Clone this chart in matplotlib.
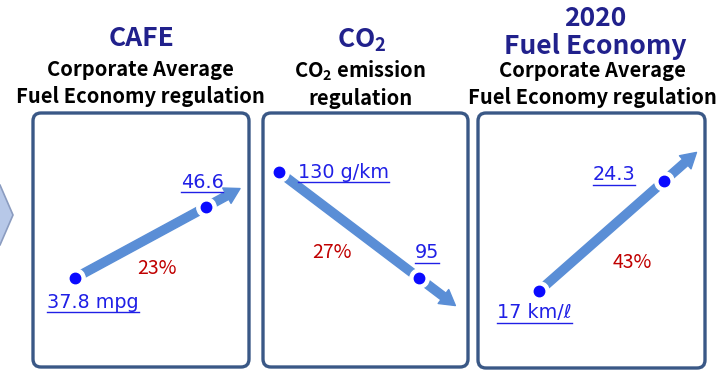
import matplotlib.pyplot as plt
from matplotlib.patches import FancyBboxPatch, Polygon
from matplotlib.lines import Line2D
from matplotlib.transforms import IdentityTransform

plt.rcParams['font.family'] = ['Noto Sans CJK KR', 'DejaVu Sans']
plt.rcParams['mathtext.fontset'] = 'custom'
plt.rcParams['mathtext.rm'] = 'Noto Sans CJK KR:bold'
plt.rcParams['mathtext.default'] = 'rm'

# data
headlines = ['CAFE', 'CO$_2$', '2020\nFuel Economy']
subtitles = ['Corporate Average\nFuel Economy regulation',
             'CO$_2$ emission\nregulation',
             'Corporate Average\nFuel Economy regulation']
start_values = [37.8, 130, 17]
end_values = [46.6, 95, 24.3]
start_labels = ['37.8 mpg', '130 g/km', '17 km/ℓ']
end_labels = ['46.6', '95', '24.3']
changes = ['23%', '27%', '43%']

# layout (pixels, y from top)
W, H = 720, 375
boxes = [(33, 113, 249, 367), (263, 113, 468, 367), (478, 113, 705, 368)]
dot_px = [((75, 278), (206, 207)), ((279, 172), (419, 278)), ((539, 291), (664, 181))]
head_pos = [(142, 38), (362, 40), (595, 33)]
sub_pos = [(140, 83), (360, 84), (592, 84)]
start_lab_pos = [(47, 302, 'left'), (298, 172, 'left'), (497, 313, 'left')]
end_lab_pos = [(202, 182), (427, 253), (614, 175)]
pct_pos = [(157, 268), (332, 253), (632, 263)]

navy = '#21218c'
arrow_c = '#5a8ed6'
blue = '#0a0aff'
lab_c = '#2020e6'

fig = plt.figure(figsize=(7.2, 3.75), dpi=100)
bg = fig.add_axes([0, 0, 1, 1])
bg.set_xlim(0, W)
bg.set_ylim(H, 0)
bg.axis('off')

# chevron at the left edge
bg.add_patch(Polygon([(-20, 185), (0, 185), (13, 215), (0, 245), (-20, 245)],
                     closed=True, facecolor='#b7c8e8', edgecolor='#8b9cc0', lw=1.2))

labels = []
for i in range(3):
    x0, y0, x1, y1 = boxes[i]
    bg.add_patch(FancyBboxPatch((x0, y0), x1 - x0, y1 - y0,
                                boxstyle='round,pad=0,rounding_size=8',
                                facecolor='white', edgecolor='#3a5886', lw=2.4))

    # titles
    if i == 2:
        bg.text(head_pos[i][0], 18, '2020', color=navy, fontsize=19, fontweight='bold',
                ha='center', va='center')
        bg.text(head_pos[i][0], 46, 'Fuel Economy', color=navy, fontsize=19,
                fontweight='bold', ha='center', va='center')
    else:
        bg.text(head_pos[i][0], head_pos[i][1], headlines[i], color=navy, fontsize=19,
                fontweight='bold', ha='center', va='center')
    bg.text(sub_pos[i][0], sub_pos[i][1], subtitles[i], color='black', fontsize=14.5,
            fontweight='bold', ha='center', va='center', linespacing=1.3)

    # panel axes: values mapped so that the dots land on the layout anchors
    (px0, py0), (px1, py1) = dot_px[i]
    v0, v1 = start_values[i], end_values[i]
    ax = fig.add_axes([x0 / W, 1 - y1 / H, (x1 - x0) / W, (y1 - y0) / H])
    ax.patch.set_alpha(0)
    ax.axis('off')
    sx = px1 - px0
    ax.set_xlim((x0 - px0) / sx, (x1 - px0) / sx)
    sy = (py1 - py0) / (v1 - v0)
    ax.set_ylim(v0 + (y1 - py0) / sy, v0 + (y0 - py0) / sy)

    ext = 1.26
    tip = v0 + ext * (v1 - v0)
    ax.annotate('', xy=(ext, tip), xytext=(0, v0),
                arrowprops=dict(arrowstyle='simple,head_width=1.05,head_length=0.9,tail_width=0.5',
                                mutation_scale=12, color=arrow_c, shrinkA=0, shrinkB=0))
    ax.plot([0, 1], [v0, v1], 'o', color='white', ms=14, zorder=3)
    ax.plot([0, 1], [v0, v1], 'o', color=blue, ms=7.5, zorder=4)

    sxp, syp, sha = start_lab_pos[i]
    labels.append(bg.text(sxp, syp, start_labels[i], color=lab_c, fontsize=13.8,
                          family='DejaVu Sans', ha=sha, va='center'))
    labels.append(bg.text(end_lab_pos[i][0], end_lab_pos[i][1], end_labels[i], color=lab_c,
                          fontsize=13.8, family='DejaVu Sans', ha='center', va='center'))
    bg.text(pct_pos[i][0], pct_pos[i][1], changes[i], color='#c00000', fontsize=14,
            ha='center', va='center')

# underline the value labels
fig.canvas.draw()
for t in labels:
    bb = t.get_window_extent()
    fig.add_artist(Line2D([bb.x0, bb.x1], [bb.y0, bb.y0], color=lab_c, lw=1.0,
                          transform=IdentityTransform()))

fig.savefig('out.png', dpi=100)
